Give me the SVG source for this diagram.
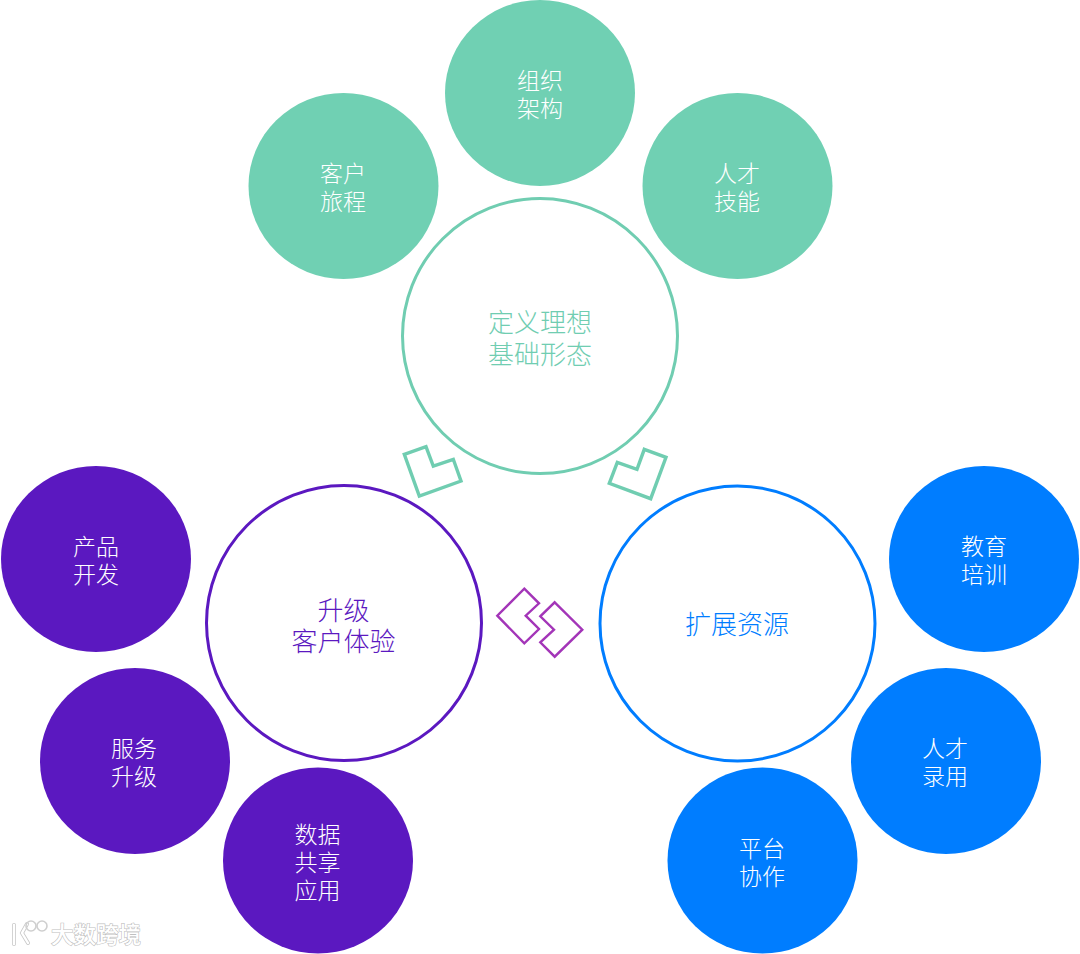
<svg xmlns="http://www.w3.org/2000/svg" width="1080" height="954" viewBox="0 0 1080 954">
<defs>
<style>
text{font-family:"Noto Sans CJK SC","Noto Sans",sans-serif;text-anchor:middle}
.s{font-size:23px;fill:#fff;font-weight:300}
.b{font-size:26px;font-weight:300}
.ring{fill:#fff;stroke-width:3}
.g{fill:#70d0b3}.p{fill:#5b18c0}.u{fill:#007dff}
.ch{fill:none;stroke-width:3.4;stroke:#70cdb1}
.ch2{fill:none;stroke-width:2.4;stroke:#a335b8}
.wm{font-size:22.500px;fill:#fff;stroke:#c0c0c0;stroke-width:1.200;paint-order:stroke;font-weight:500}
.lg{fill:none;stroke:#cfcfcf;stroke-width:1.600}
.lw{fill:none;stroke:#c8c8c8;stroke-width:4;stroke-linecap:round}
.lw2{fill:none;stroke:#fff;stroke-width:2.400;stroke-linecap:round}
</style>
</defs>
<rect width="1080" height="954" fill="#fff"/>
<g id="n-journey"><ellipse class="g" cx="343.500" cy="186" rx="95" ry="93"/><text class="s" x="343" y="182">客户<tspan x="343" dy="28">旅程</tspan></text></g>
<g id="n-org"><ellipse class="g" cx="540" cy="93" rx="95" ry="93"/><text class="s" x="540" y="89">组织<tspan x="540" dy="28">架构</tspan></text></g>
<g id="n-talent"><ellipse class="g" cx="737.500" cy="186" rx="95" ry="93"/><text class="s" x="737" y="182">人才<tspan x="737" dy="28">技能</tspan></text></g>
<g id="n-define"><circle class="ring" cx="540" cy="336" r="137.500" stroke="#70cdb1"/><text class="b" x="540" y="331.500" fill="#70cdb1">定义理想<tspan x="540" dy="32">基础形态</tspan></text></g>
<g id="n-upgrade"><circle class="ring" cx="344" cy="623" r="137.500" stroke="#5b18c0"/><text class="b" x="343.500" y="619.500" fill="#5b18c0">升级<tspan x="343.500" dy="31">客户体验</tspan></text></g>
<g id="n-expand"><circle class="ring" cx="737.500" cy="623.500" r="137.500" stroke="#007dff"/><text class="b" x="737" y="634" fill="#007dff">扩展资源</text></g>
<g id="n-product"><ellipse class="p" cx="96" cy="559" rx="95" ry="93"/><text class="s" x="96" y="555">产品<tspan x="96" dy="28">开发</tspan></text></g>
<g id="n-service"><ellipse class="p" cx="135" cy="761" rx="95" ry="93"/><text class="s" x="134" y="757">服务<tspan x="134" dy="28">升级</tspan></text></g>
<g id="n-data"><ellipse class="p" cx="318" cy="860.500" rx="95" ry="93"/><text class="s" x="317.500" y="843">数据<tspan x="317.500" dy="28">共享</tspan><tspan x="317.500" dy="28">应用</tspan></text></g>
<g id="n-edu"><ellipse class="u" cx="984" cy="559" rx="95" ry="93"/><text class="s" x="984" y="555">教育<tspan x="984" dy="28">培训</tspan></text></g>
<g id="n-hire"><ellipse class="u" cx="946" cy="761" rx="95" ry="93"/><text class="s" x="945" y="757">人才<tspan x="945" dy="28">录用</tspan></text></g>
<g id="n-platform"><ellipse class="u" cx="762.500" cy="860.500" rx="95" ry="93"/><text class="s" x="762" y="857">平台<tspan x="762" dy="28">协作</tspan></text></g>
<g id="connectors">
<polygon class="ch" points="404.300,454.300 426,446.700 433.300,466 453.300,459.300 461,481 419.300,496"/>
<polygon class="ch" points="644.300,449.300 666,457.300 650.700,498.700 609.300,483.300 617.300,462.300 637,469.300"/>
<polygon class="ch2" points="524.300,588.700 539,603.300 525.700,615.700 539,629 524.300,643.300 497.300,615.700"/>
<polygon class="ch2" points="554.700,602.300 582.300,629.700 554.700,656.700 540.300,642.300 554,629.700 540.300,616.300"/>
</g>
<g id="watermark">
<path class="lw" d="M14 925v19M27 924l-5 9 6 10"/>
<path class="lw2" d="M14 925v19M27 924l-5 9 6 10"/>
<circle class="lg" cx="31" cy="926" r="5"/><circle class="lg" cx="42" cy="926" r="5"/>
<text class="wm" x="96" y="943">大数跨境</text>
</g>
</svg>
